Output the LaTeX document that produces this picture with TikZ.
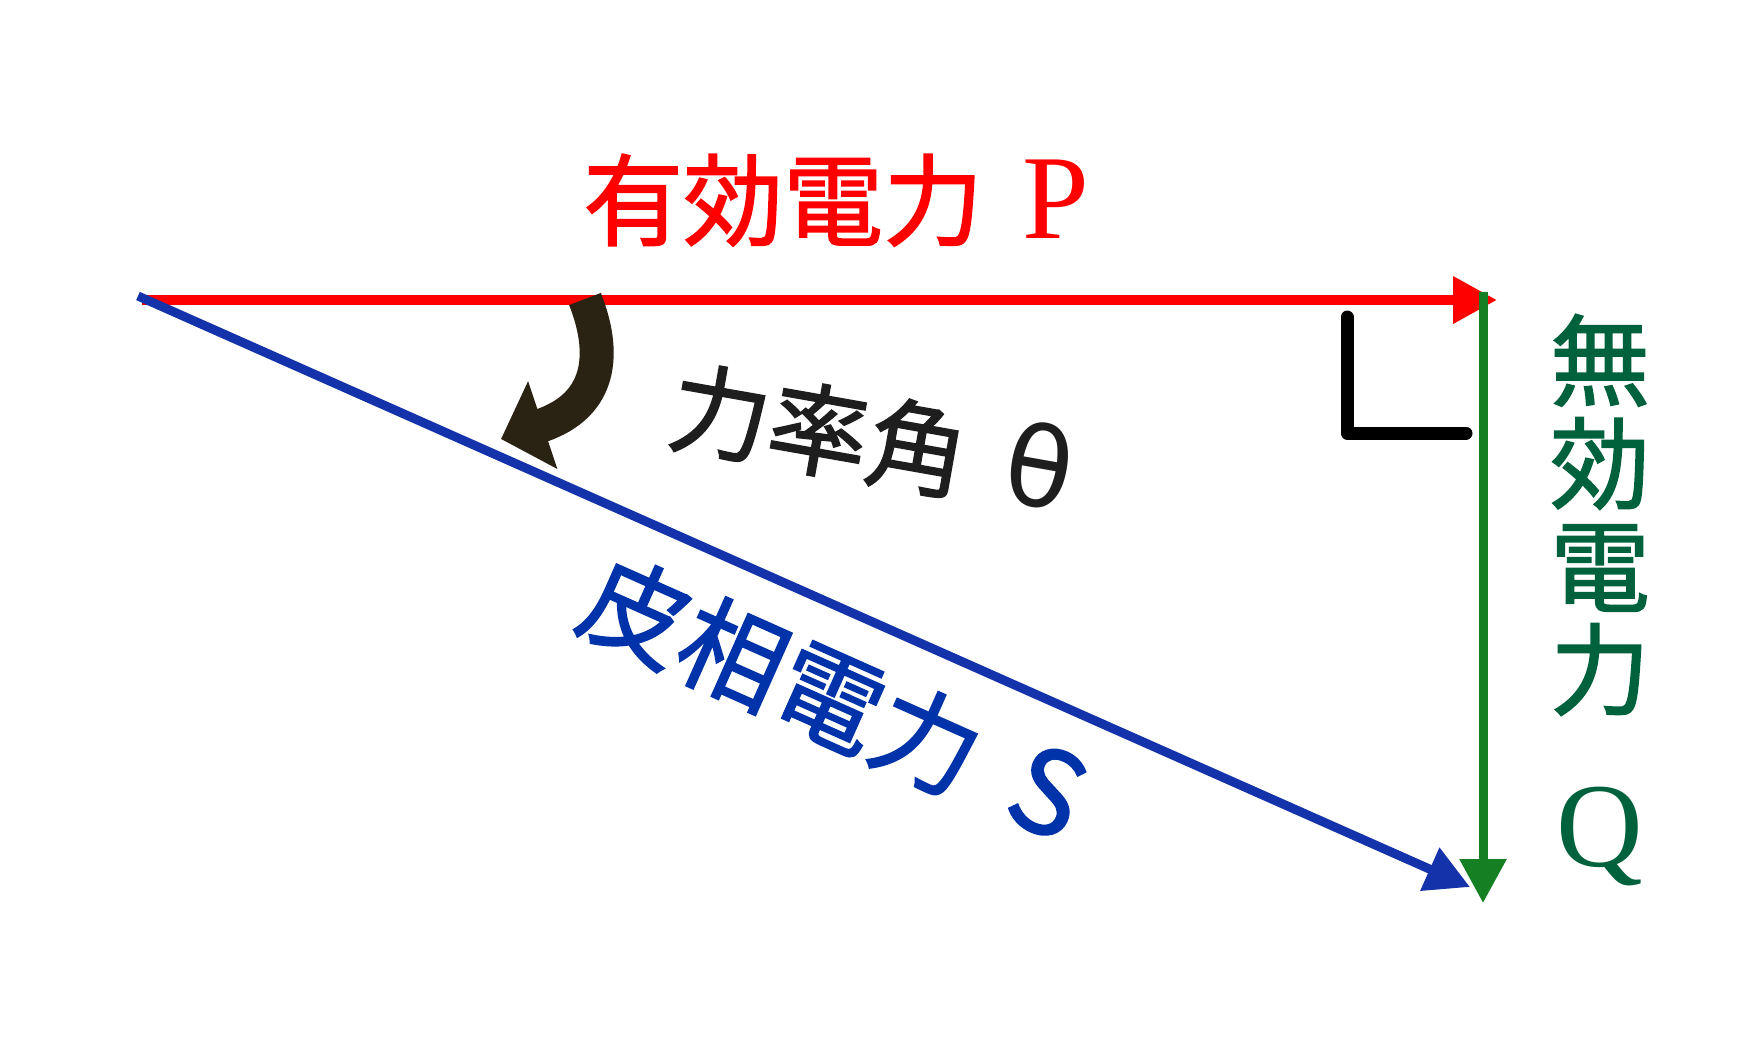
\documentclass[tikz,border=0pt]{standalone}
\usepackage{fontspec}
\setmainfont{Noto Sans CJK JP}[FakeBold=1.5]
\newfontfamily\serifL{Liberation Serif}
\newfontfamily\sansD{DejaVu Sans}
\usetikzlibrary{arrows.meta}
\definecolor{cred}{RGB}{255,0,0}
\definecolor{cblueline}{RGB}{20,50,170}
\definecolor{cbluetext}{RGB}{0,50,170}
\definecolor{cgreenline}{RGB}{20,128,35}
\definecolor{cgreentext}{RGB}{0,98,60}
\definecolor{carrow}{RGB}{42,34,18}
\definecolor{ctext}{RGB}{30,30,30}
\tikzset{
  vec/.style={line width=10pt, -{Triangle[length=44pt,width=45pt]}},
  lbl/.style={inner sep=0pt, font=\fontsize{100}{103}\selectfont},
}
\newcommand{\bigserif}[1]{{\serifL\fontsize{120}{120}\selectfont #1}}
\begin{document}
\begin{tikzpicture}[x=1pt,y=-1pt]
\useasboundingbox (0,0) rectangle (1756,1057);
\fill[white] (0,0) rectangle (1756,1057);
\coordinate (Pstart) at (142,300);
\coordinate (O) at (138,296);
\coordinate (Pend) at (1497,300);
\coordinate (Qtop) at (1483,292);
\coordinate (Qend) at (1483,903);
\coordinate (Send) at (1470,887);
\coordinate (Astart) at (585,299);
\coordinate (Aend) at (501,439);
% vectors
\draw[vec, cred] (Pstart) -- (Pend);
\draw[vec, cgreenline, line width=9pt] (Qtop) -- (Qend);
\draw[vec, cblueline, line width=9pt] (O) -- (Send);
% right angle mark
\draw[line width=13pt, line cap=round, line join=round] (1347,317) -- (1347,433) -- (1466,433);
% angle arrow
\draw[carrow, line width=34pt, -{Triangle[length=44pt,width=90pt]}] (Astart) .. controls (606,352) and (603,405) .. (Aend);
% labels
\node[lbl, anchor=base west, text=cred] (Plabel) at (583,238) {有効電力\hspace{39pt}\bigserif{P}};
\node[lbl, rotate=-10, anchor=west, text=ctext] (Tlabel) at (671,404) {力率角\hspace{40pt}{\sansD\fontsize{110}{110}\selectfont θ}};
\node[lbl, rotate=-24, anchor=west, text=cbluetext, font=\fontsize{106}{106}\selectfont] (Slabel) at (588,589) {皮相電力\hspace{44pt}{\fontsize{115}{115}\selectfont S}};
\node[lbl, anchor=north, align=center, text=cgreentext] (Qlabel) at (1600,314) {無\\効\\電\\力\\[56pt]\bigserif{Q}};
\end{tikzpicture}
\end{document}
